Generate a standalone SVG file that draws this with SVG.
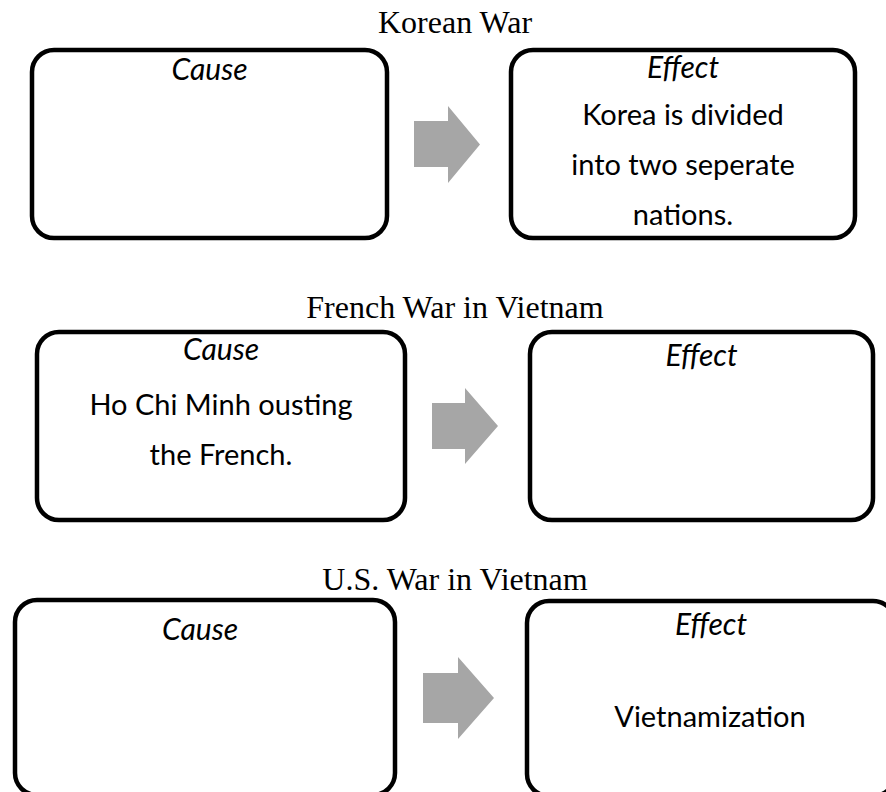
<svg xmlns="http://www.w3.org/2000/svg" width="886" height="792" viewBox="0 0 886 792">
<style>
.box{fill:#ffffff;stroke:#000000;stroke-width:4.5}
.title{font-family:"Liberation Serif","Times New Roman",serif;font-size:32px;fill:#000;text-anchor:middle}
.lbl{font-family:Lato,"Open Sans",sans-serif;font-style:italic;font-size:30px;fill:#000;text-anchor:middle}
.txt{font-family:Lato,"Open Sans",sans-serif;font-size:29px;fill:#000;text-anchor:middle}
.arrow{fill:#a6a6a6;stroke:none}
</style>
<rect width="886" height="792" fill="#ffffff"/>
<text class="title" x="455" y="33">Korean War</text>
<text class="title" x="455" y="318">French War in Vietnam</text>
<text class="title" x="455" y="590">U.S. War in Vietnam</text>

<g id="korean-cause">
<rect class="box" x="32" y="50" width="355" height="188" rx="22"/>
<text class="lbl" x="209.5" y="80">Cause</text>
</g>
<g id="korean-effect">
<rect class="box" x="511" y="50" width="344" height="188" rx="22"/>
<text class="lbl" x="683" y="78">Effect</text>
<text class="txt" x="683" y="125">Korea is divided</text>
<text class="txt" x="683" y="175">into two seperate</text>
<text class="txt" x="683" y="225">nations.</text>
</g>
<g id="french-cause">
<rect class="box" x="37" y="332" width="368" height="188" rx="22"/>
<text class="lbl" x="221" y="360">Cause</text>
<text class="txt" x="221" y="415">Ho Chi Minh ousting</text>
<text class="txt" x="221" y="465">the French.</text>
</g>
<g id="french-effect">
<rect class="box" x="530" y="332" width="343" height="188" rx="22"/>
<text class="lbl" x="701.5" y="366">Effect</text>
</g>
<g id="us-cause">
<rect class="box" x="15" y="600" width="380" height="195" rx="22"/>
<text class="lbl" x="200" y="640">Cause</text>
</g>
<g id="us-effect">
<rect class="box" x="527" y="601" width="368" height="195" rx="22"/>
<text class="lbl" x="711" y="635">Effect</text>
<text class="txt" x="710" y="727">Vietnamization</text>
</g>

<g id="connectors">
<polygon class="arrow" points="414,121 448,121 448,106 480,144.5 448,183 448,167 414,167"/>
<polygon class="arrow" points="432,403 465,403 465,388 498,426 465,464 465,449 432,449"/>
<polygon class="arrow" points="423,673 458,673 458,657 494,698 458,739 458,723 423,723"/>
</g>
</svg>
